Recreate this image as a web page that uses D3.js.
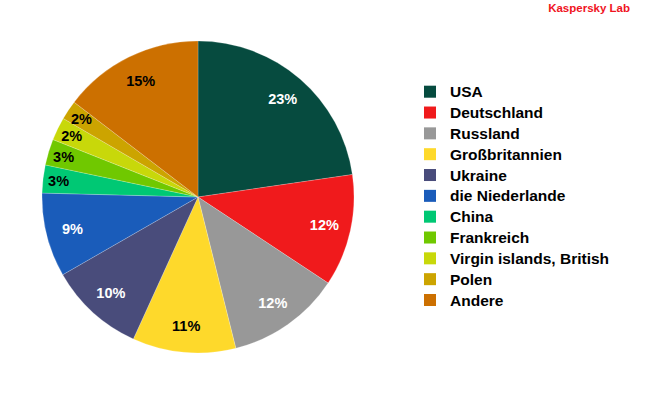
<!DOCTYPE html>
<html>
<head>
<meta charset="utf-8">
<script src="https://cdn.jsdelivr.net/npm/d3@7"></script>
<style>
  body { margin: 0; background: #fff; }
  text { font-family: "Liberation Sans", Arial, sans-serif; font-weight: bold; }
</style>
</head>
<body>
<svg id="chart" width="650" height="400"></svg>
<script>
// data (share in %)
var countries = ["USA", "Deutschland", "Russland", "Großbritannien", "Ukraine",
  "die Niederlande", "China", "Frankreich", "Virgin islands, British", "Polen", "Andere"];
var shares = [22.7, 11.6, 11.8, 10.7, 9.9, 8.7, 2.9, 2.7, 2.4, 2.0, 14.6];
var colors = ["#064b3f", "#f01a1c", "#989898", "#fed92b", "#494c7b",
  "#1a5cba", "#00c874", "#70c800", "#c8d80a", "#cca400", "#cc7000"];
var darkText = ["USA", "Deutschland", "Russland", "Ukraine", "die Niederlande"];

var w = 650, h = 400;
var cx = 198, cy = 197, radius = 156;

var svg = d3.select("#chart");

var data = countries.map(function(c, i) { return { name: c, value: shares[i], color: colors[i] }; });

var pie = d3.pie().sort(null).value(function(d) { return d.value; });
var pathPie = d3.arc().outerRadius(radius).innerRadius(0);
var label = d3.arc().outerRadius(radius * 0.83).innerRadius(radius * 0.83);
var labelSmall = d3.arc().outerRadius(radius * 0.9).innerRadius(radius * 0.9);

var g = svg.append("g").attr("transform", "translate(" + cx + "," + cy + ")");

var arc = g.selectAll(".arc")
  .data(pie(data))
  .enter().append("g")
    .attr("class", "arc");

arc.append("path")
  .attr("d", pathPie)
  .attr("fill", function(d) { return d.data.color; })
  .attr("stroke", "#ffffff")
  .attr("stroke-opacity", 0.35)
  .attr("stroke-width", 0.6);

arc.append("text")
  .attr("transform", function(d) {
    var a = d.data.value < 5 ? labelSmall : label;
    return "translate(" + a.centroid(d) + ")";
  })
  .attr("dy", "0.35em")
  .attr("text-anchor", "middle")
  .attr("font-size", "14.5px")
  .attr("fill", function(d) { return darkText.indexOf(d.data.name) >= 0 ? "#ffffff" : "#000000"; })
  .text(function(d) { return Math.round(d.data.value) + "%"; });

// legend
var y = d3.scalePoint().domain(countries).range([91.7, 300]);

var legend = svg.append("g").selectAll(".legend")
  .data(data)
  .enter().append("g")
    .attr("class", "legend")
    .attr("transform", function(d) { return "translate(424," + y(d.name) + ")"; });

legend.append("rect")
  .attr("x", 0).attr("y", -6)
  .attr("width", 12).attr("height", 12)
  .attr("fill", function(d) { return d.color; });

legend.append("text")
  .attr("x", 26)
  .attr("dy", "0.36em")
  .attr("font-size", "15.5px")
  .attr("fill", "#000")
  .text(function(d) { return d.name; });

svg.append("text")
  .attr("x", 630).attr("y", 12)
  .attr("text-anchor", "end")
  .attr("font-size", "11.5px")
  .attr("fill", "#f0141e")
  .text("Kaspersky Lab");
</script>
</body>
</html>
